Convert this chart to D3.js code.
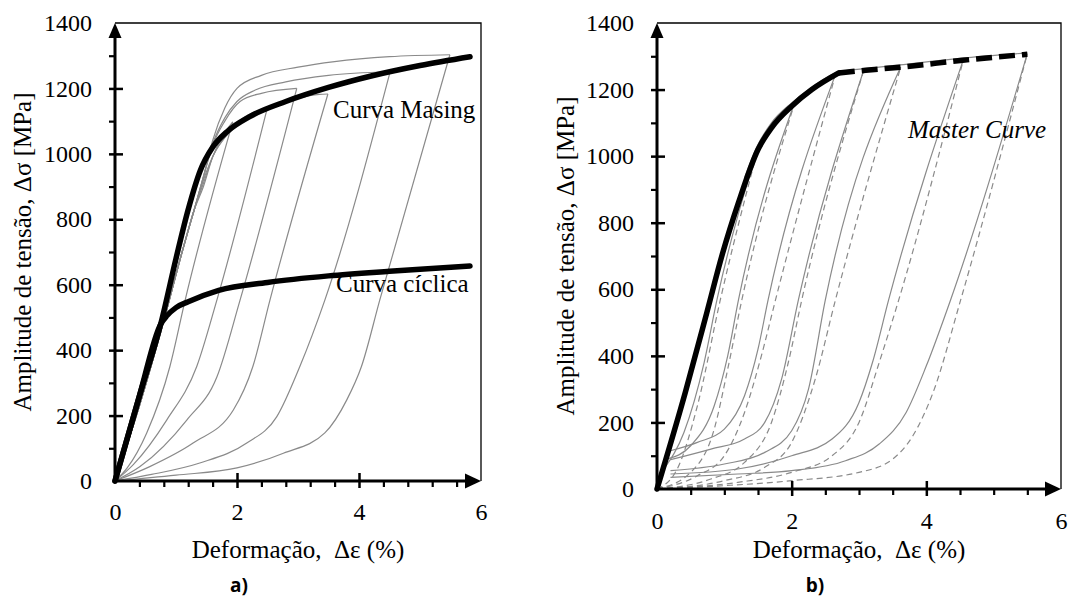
<!DOCTYPE html>
<html><head><meta charset="utf-8">
<script src="https://cdn.jsdelivr.net/npm/d3@7"></script>
<style>body{margin:0;background:#fff}svg{display:block}
.serif{font-family:"Liberation Serif","Times New Roman",serif}</style>
</head><body>
<svg id="c" width="1090" height="600"></svg>
<script>
// ---------- tick values ----------
const xMajor = [0, 2, 4, 6];
const yMajor = [0, 200, 400, 600, 800, 1000, 1200, 1400];
const yMinor = [100, 300, 500, 700, 900, 1100, 1300];
const xMinorA = [0.4, 0.8, 1.2, 1.6, 2.4, 2.8, 3.2, 3.6, 4.4, 4.8, 5.2, 5.6];
const xMinorB = [0.5, 1, 1.5, 2.5, 3, 3.5, 4.5, 5, 5.5];

// ---------- panel a) : [strain %, stress MPa] ----------
const aMasing = [[0,0],[0.4,260],[0.75,480],[1.0,680],[1.2,830],[1.4,950],[1.6,1020],[1.85,1070],[2.2,1113],[2.8,1160],[3.5,1203],[4.2,1238],[5.0,1270],[5.82,1297]];
const aCiclica = [[0,0],[0.4,260],[0.75,480],[0.85,505],[1.0,530],[1.2,548],[1.7,583],[2.5,607],[3.5,627],[4.5,641],[5.82,657]];
const aUpper = [
  [[0,0],[0.4,230],[0.8,490],[1.1,700],[1.3,830],[1.45,900],[1.6,990],[1.75,1050],[1.93,1098]],
  [[0,0],[0.4,230],[0.8,490],[1.1,700],[1.3,830],[1.45,910],[1.6,990],[1.8,1050],[2.0,1095],[2.25,1125],[2.4,1134],[2.49,1135]],
  [[0,0],[0.4,230],[0.8,490],[1.1,700],[1.3,830],[1.45,930],[1.6,1025],[1.8,1100],[2.05,1160],[2.4,1185],[2.98,1200]],
  [[0,0],[0.4,230],[0.8,490],[1.1,700],[1.3,830],[1.45,920],[1.65,1010],[1.9,1070],[2.2,1110],[2.6,1145],[3.0,1170],[3.35,1182],[3.49,1183]],
  [[0,0],[0.4,230],[0.8,490],[1.1,700],[1.3,830],[1.45,930],[1.6,1030],[1.8,1110],[2.0,1160],[2.3,1195],[2.8,1220],[3.5,1240],[4.51,1251]],
  [[0,0],[0.4,230],[0.8,490],[1.1,700],[1.3,830],[1.45,930],[1.6,1040],[1.8,1140],[2.0,1200],[2.4,1240],[3.0,1265],[3.6,1282],[4.5,1297],[5.49,1303]]
];
const aLower = [
  [[0,0],[0.2,40],[0.52,147],[0.9,350],[1.15,553],[1.93,1098]],
  [[0,0],[0.3,50],[0.85,187],[1.34,350],[1.67,553],[2.49,1135]],
  [[0,0],[0.41,44],[1.18,187],[1.67,318],[2.05,553],[2.98,1200]],
  [[0,0],[0.57,44],[1.28,116],[1.94,217],[2.26,350],[2.54,553],[3.49,1183]],
  [[0,0],[0.6,20],[1.39,55],[2.16,116],[2.65,196],[3.03,350],[3.44,553],[4.51,1251]],
  [[0,0],[1.0,18],[2.0,40],[2.76,85],[3.44,147],[3.8,248],[4.04,350],[4.34,553],[5.49,1303]]
];

// ---------- panel b) ----------
const bMasterSolid = [[0,0],[0.42,290],[0.74,530],[0.97,705],[1.21,860],[1.5,1020],[1.7,1085],[2.0,1150],[2.3,1200],[2.7,1250]];
const bMasterDashed = [[2.7,1250],[3.1,1258],[3.65,1268],[4.54,1288],[5.5,1306]];
const bEnvelope = [[1.3,935],[1.5,1035],[1.7,1100],[2.0,1160],[2.3,1207],[2.7,1253],[3.1,1263],[3.6,1274],[4.5,1294],[5.5,1310]];
const bSolid = [
  [[0.1,60],[0.4,170],[0.7,380],[0.89,568],[1.51,1030]],
  [[0.15,90],[0.5,130],[0.85,250],[1.05,400],[1.21,568],[2.06,1170]],
  [[0.2,115],[0.6,140],[1.0,180],[1.3,280],[1.5,420],[1.65,568],[2.65,1245]],
  [[0.2,88],[0.8,120],[1.3,150],[1.6,200],[1.85,330],[2.1,568],[3.07,1258]],
  [[0.2,55],[1.0,75],[1.6,110],[2.0,175],[2.25,300],[2.5,568],[3.62,1268]],
  [[0.2,45],[1.2,60],[2.0,100],[2.6,150],[3.0,260],[3.2,380],[3.44,568],[4.55,1290]],
  [[0.2,35],[1.2,45],[2.0,55],[2.8,85],[3.3,135],[3.7,230],[4.0,370],[4.36,568],[5.5,1308]]
];
const bDashed = [
  [[0,0],[0.3,60],[0.6,250],[0.94,568],[1.51,1030]],
  [[0,0],[0.5,50],[0.85,180],[1.05,360],[1.26,568],[2.06,1170]],
  [[0,0],[0.6,40],[1.0,100],[1.3,230],[1.55,400],[1.76,568],[2.65,1245]],
  [[0,0],[0.8,30],[1.3,80],[1.7,200],[1.95,380],[2.15,568],[3.07,1258]],
  [[0,0],[1.0,25],[1.6,65],[2.0,140],[2.35,330],[2.65,568],[3.62,1268]],
  [[0,0],[1.2,20],[2.0,50],[2.6,100],[3.0,200],[3.3,380],[3.59,568],[4.55,1290]],
  [[0,0],[1.0,10],[2.0,25],[3.0,50],[3.5,90],[3.8,160],[4.1,290],[4.51,568],[5.5,1308]]
];

// ---------- drawing ----------
const svg = d3.select('#c');
const SERIF = '"Liberation Serif","Times New Roman",serif';
const GRAY = '#8a8a8a';

function panel(o) {
  const g = svg.append('g');
  const x = d3.scaleLinear().domain([0, 6]).range([o.x0, o.x1]);
  const y = d3.scaleLinear().domain([0, 1400]).range([o.y0, o.y1]);
  const line = d3.line().x(d => x(d[0])).y(d => y(d[1])).curve(d3.curveMonotoneX);

  g.append('path').attr('d', `M${x(0)},${y(1400)}H${x(6)}V${y(0)}`)
    .attr('fill', 'none').attr('stroke', '#000').attr('stroke-width', 1.3);

  o.draw(g, line);

  const yMin = g.append('g').attr('transform', `translate(${x(0)},0)`)
    .call(d3.axisLeft(y).tickValues(yMinor).tickSize(6).tickFormat(''));
  yMin.select('.domain').remove();
  yMin.selectAll('line').attr('stroke-width', 2.2);
  const yAx = g.append('g').attr('transform', `translate(${x(0)},0)`)
    .call(d3.axisLeft(y).tickValues(yMajor).tickSize(6).tickPadding(17).tickFormat(d3.format('d')));
  yAx.select('.domain').remove();
  yAx.selectAll('line').attr('x1', 8).attr('stroke-width', 2.5);
  yAx.selectAll('.tick').filter(d => d === 0 || d === 1400).select('line').remove();
  yAx.attr('font-family', null).attr('font-size', null);
  yAx.selectAll('text').attr('class', 'serif').style('font-family', SERIF).style('font-size', '24px').attr('fill', '#000');

  const xMin = g.append('g').attr('transform', `translate(0,${y(0)})`)
    .call(d3.axisBottom(x).tickValues(o.xMinor).tickSize(6).tickFormat(''));
  xMin.select('.domain').remove();
  xMin.selectAll('line').attr('stroke-width', 2.2);
  const xAx = g.append('g').attr('transform', `translate(0,${y(0)})`)
    .call(d3.axisBottom(x).tickValues(xMajor).tickSize(7).tickPadding(o.xPad).tickFormat(d3.format('d')));
  xAx.select('.domain').remove();
  xAx.selectAll('line').attr('y1', -8).attr('stroke-width', 2.5);
  xAx.selectAll('.tick').filter(d => d === 0 || d === 6).select('line').remove();
  xAx.attr('font-family', null).attr('font-size', null);
  xAx.selectAll('text').attr('class', 'serif').style('font-family', SERIF).style('font-size', '24px').attr('fill', '#000');

  g.append('line').attr('x1', x(0)).attr('y1', y(0) + 1).attr('x2', x(0)).attr('y2', y(1400) + 12)
    .attr('stroke', '#000').attr('stroke-width', 3);
  g.append('path').attr('d', `M${x(0)},${y(1400)}L${x(0) - 6.5},${y(1400) + 15}L${x(0) + 6.5},${y(1400) + 15}Z`).attr('fill', '#000');
  g.append('line').attr('x1', x(0) - 1.5).attr('y1', y(0)).attr('x2', x(6) - 12).attr('y2', y(0))
    .attr('stroke', '#000').attr('stroke-width', 3);
  g.append('path').attr('d', `M${x(6)},${y(0)}L${x(6) - 16},${y(0) - 7.5}L${x(6) - 16},${y(0) + 7.5}Z`).attr('fill', '#000');

  g.append('text').attr('transform', `translate(${o.yTitleX},${(o.y0 + o.y1) / 2}) rotate(-90)`)
    .attr('text-anchor', 'middle').attr('dy', '0.35em').attr('class', 'serif')
    .style('font-family', SERIF).style('font-size', '25px').text('Amplitude de tensão, Δσ [MPa]');
  g.append('text').attr('x', (o.x0 + o.x1) / 2).attr('y', 558).attr('text-anchor', 'middle').attr('class', 'serif')
    .style('font-family', SERIF).style('font-size', '25px').style('white-space', 'pre')
    .text('Deformação,  Δε (%)');
  g.append('text').attr('x', o.tagX).attr('y', 592).attr('text-anchor', 'middle')
    .style('font-family', '"Open Sans","Liberation Sans",sans-serif').style('font-weight', 'bold')
    .style('font-size', '19px').text(o.tag);
  return {x, y};
}

panel({
  x0: 115, x1: 481, y0: 481, y1: 23, xMinor: xMinorA, xPad: 15, yTitleX: 22, tagX: 239, tag: 'a)',
  draw(g, line) {
    const gr = g.append('g').attr('fill', 'none').attr('stroke', GRAY).attr('stroke-width', 1.2);
    aUpper.forEach(c => gr.append('path').attr('d', line(c)));
    aLower.forEach(c => gr.append('path').attr('d', line(c)));
    g.append('path').attr('d', line(aCiclica)).attr('fill', 'none').attr('stroke', '#000')
      .attr('stroke-width', 5.5).attr('stroke-linecap', 'round').attr('stroke-linejoin', 'round');
    g.append('path').attr('d', line(aMasing)).attr('fill', 'none').attr('stroke', '#000')
      .attr('stroke-width', 5.5).attr('stroke-linecap', 'round').attr('stroke-linejoin', 'round');
    g.append('text').attr('x', 333).attr('y', 118).attr('class', 'serif').style('font-family', SERIF).style('font-size', '25px').text('Curva Masing');
    g.append('text').attr('x', 336).attr('y', 292).attr('class', 'serif').style('font-family', SERIF).style('font-size', '25px').text('Curva cíclica');
  }
});

panel({
  x0: 657, x1: 1061, y0: 489, y1: 23, xMinor: xMinorB, xPad: 16, yTitleX: 565, tagX: 815, tag: 'b)',
  draw(g, line) {
    const gr = g.append('g').attr('fill', 'none').attr('stroke', GRAY).attr('stroke-width', 1.2);
    bDashed.forEach(c => gr.append('path').attr('d', line(c)).attr('stroke-dasharray', '6,4'));
    bSolid.forEach(c => gr.append('path').attr('d', line(c)));
    gr.append('path').attr('d', line(bEnvelope));
    g.append('path').attr('d', line(bMasterSolid)).attr('fill', 'none').attr('stroke', '#000')
      .attr('stroke-width', 5.5).attr('stroke-linecap', 'round').attr('stroke-linejoin', 'round');
    g.append('path').attr('d', line(bMasterDashed)).attr('fill', 'none').attr('stroke', '#000')
      .attr('stroke-width', 5.5).attr('stroke-dasharray', '16,7');
    g.append('text').attr('x', 908).attr('y', 138).attr('class', 'serif').style('font-family', SERIF).style('font-style', 'italic')
      .style('font-size', '25px').text('Master Curve');
  }
});
</script>
</body></html>
